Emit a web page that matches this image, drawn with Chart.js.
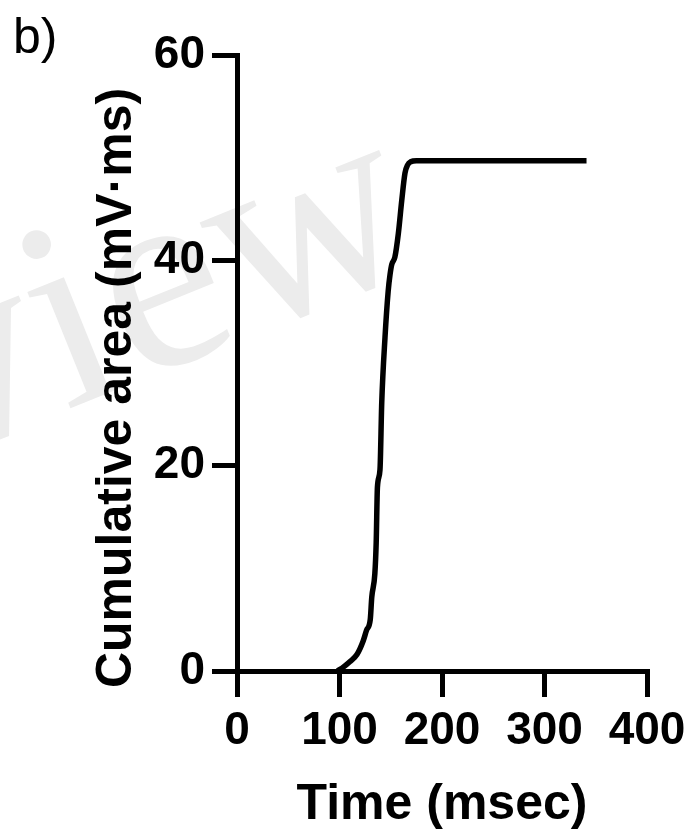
<!DOCTYPE html>
<html>
<head>
<meta charset="utf-8">
<script src="https://cdn.jsdelivr.net/npm/chart.js@4.4.0/dist/chart.umd.min.js"></script>
<style>
  html, body { margin: 0; padding: 0; background: #fff; }
  #wrap { width: 699px; height: 840px; position: relative; }
</style>
</head>
<body>
<div id="wrap"><canvas id="areaChart"></canvas></div>
<script>
// time (msec) and cumulative area (mV·ms)
var timeMs = [98, 104, 110, 117, 123, 126.5, 130, 131.5, 134.5, 135.8, 137, 139.5, 141.2, 144.4, 147.5, 149.3, 151, 154, 157.4, 160.7, 163.9, 166.5, 169.5, 175, 341];
var cumArea = [0, 0.4, 0.9, 1.6, 2.9, 4.0, 5.0, 7.2, 9.5, 12.5, 17.9, 19.6, 26.1, 32.5, 37.0, 38.6, 39.6, 40.3, 42.6, 45.8, 48.5, 49.3, 49.6, 49.7, 49.7];
var xTicks = [0, 100, 200, 300, 400];
var yTicks = [0, 20, 40, 60];

var points = timeMs.map(function (t, i) { return { x: t, y: cumArea[i] }; });

var FONT = '"Liberation Sans", Arial, sans-serif';

// white background + faint watermark, plus the panel label and y title
var extras = {
  id: 'extras',
  beforeDraw: function (chart) {
    var ctx = chart.ctx;
    ctx.save();
    ctx.fillStyle = '#fff';
    ctx.fillRect(0, 0, chart.width, chart.height);
    ctx.translate(-60, 461);
    ctx.rotate(-22 * Math.PI / 180);
    ctx.font = '270px "Liberation Serif", serif';
    ctx.fillStyle = '#ececec';
    ctx.textBaseline = 'alphabetic';
    ctx.fillText('view', 0, 0);
    ctx.restore();
  },
  afterDraw: function (chart) {
    var ctx = chart.ctx;
    ctx.save();
    ctx.fillStyle = '#000';
    ctx.font = '50px ' + FONT;
    ctx.textBaseline = 'alphabetic';
    ctx.fillText('b)', 13, 53);
    ctx.translate(131, 388);
    ctx.rotate(-Math.PI / 2);
    ctx.font = 'bold 50px ' + FONT;
    ctx.textAlign = 'center';
    ctx.fillText('Cumulative area (mV\u00b7ms)', 0, 0);
    ctx.restore();
  }
};

var ctx = document.getElementById('areaChart').getContext('2d');
var chart = new Chart(ctx, {
  type: 'line',
  data: {
    datasets: [{
      data: points,
      borderColor: '#000',
      borderWidth: 5.5,
      pointRadius: 0,
      cubicInterpolationMode: 'monotone',
      fill: false
    }]
  },
  options: {
    responsive: true,
    maintainAspectRatio: false,
    animation: false,
    layout: { padding: { left: 0, right: 52, top: 55, bottom: 0 } },
    plugins: { legend: { display: false }, tooltip: { enabled: false } },
    scales: {
      x: {
        type: 'linear',
        min: 0,
        max: 400,
        afterBuildTicks: function (scale) { scale.ticks = xTicks.map(function (v) { return { value: v }; }); },
        afterFit: function (scale) { scale.height = 169; },
        ticks: { color: '#000', font: { family: FONT, size: 46, weight: 'bold' }, padding: 7, maxRotation: 0, autoSkip: false },
        grid: { drawOnChartArea: false, drawTicks: true, tickLength: 26, tickWidth: 5, tickColor: '#000', lineWidth: 5 },
        border: { display: true, width: 5, color: '#000' },
        title: { display: true, text: 'Time (msec)', color: '#000', font: { family: FONT, size: 50, weight: 'bold' }, padding: { top: 0, bottom: 5 } }
      },
      y: {
        min: 0,
        max: 60,
        afterBuildTicks: function (scale) { scale.ticks = yTicks.map(function (v) { return { value: v }; }); },
        afterFit: function (scale) { scale.width = 237; },
        ticks: { color: '#000', font: { family: FONT, size: 46, weight: 'bold' }, padding: 7, autoSkip: false },
        grid: { drawOnChartArea: false, drawTicks: true, tickLength: 25, tickWidth: 5, tickColor: '#000', lineWidth: 5 },
        border: { display: true, width: 5, color: '#000' },
        title: { display: false }
      }
    }
  },
  plugins: [extras]
});
</script>
</body>
</html>
